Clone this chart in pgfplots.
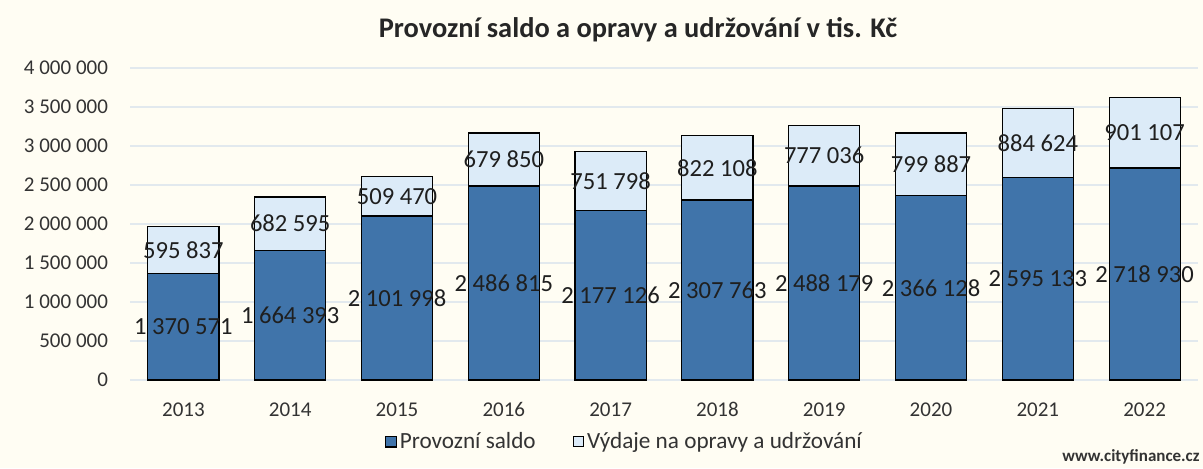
\documentclass[border=0pt]{standalone}
\usepackage{pgfplots}
\pgfplotsset{compat=1.18}
\usepackage{pgfplotstable}
\usepackage{fontspec}
\setmainfont{Carlito}
\definecolor{bg}{RGB}{255,253,243}
\definecolor{darkb}{RGB}{64,116,170}
\definecolor{lightb}{RGB}{220,235,248}
\definecolor{gridc}{RGB}{226,233,238}
\pgfplotstableread[col sep=comma]{
x,a,b,la,lb
0,1370571,595837,1 370 571,595 837
1,1664393,682595,1 664 393,682 595
2,2101998,509470,2 101 998,509 470
3,2486815,679850,2 486 815,679 850
4,2177126,751798,2 177 126,751 798
5,2307763,822108,2 307 763,822 108
6,2488179,777036,2 488 179,777 036
7,2366128,799887,2 366 128,799 887
8,2595133,884624,2 595 133,884 624
9,2718930,901107,2 718 930,901 107
}\data
\begin{document}
\begin{tikzpicture}
\fill[bg] (0,0) rectangle (601.5pt,234pt);
\begin{axis}[
  at={(65pt,44pt)}, anchor=south west,
  scale only axis, width=534pt, height=156pt,
  xmin=-0.5, xmax=9.5, ymin=0, ymax=4000000,
  ybar, bar width=0.665, bar shift=0pt,
  legend image code/.code={\draw[#1] (0pt,-2.6pt) rectangle (5.2pt,2.6pt);},
  axis line style={draw=none},
  tick style={draw=none},
  ymajorgrids, grid style={gridc, line width=0.6pt},
  scaled y ticks=false,
  ytick={0,500000,1000000,1500000,2000000,2500000,3000000,3500000,4000000},
  yticklabels={0,500 000,1 000 000,1 500 000,2 000 000,2 500 000,3 000 000,3 500 000,4 000 000},
  xtick={0,1,2,3,4,5,6,7,8,9},
  xticklabels={2013,2014,2015,2016,2017,2018,2019,2020,2021,2022},
  ticklabel style={font=\fontsize{10.5}{12}\selectfont, text=black!80},
  yticklabel style={xshift=-7.5pt},
  xticklabel style={yshift=-3.5pt},
  legend style={at={(0.4635,-0.198)}, anchor=center, draw=none, fill=none,
    legend columns=-1, font=\fontsize{11.6}{13}\selectfont, text=black!80,
    nodes={inner sep=1.5pt},
    /tikz/every odd column/.append style={column sep=0pt},
    /tikz/every even column/.append style={column sep=17pt}},
]
\addplot[fill=lightb, draw=black, line width=0.6pt, forget plot]
  table[x=x, y expr=\thisrow{a}+\thisrow{b}] {\data};
\addplot[fill=darkb, draw=black, line width=0.6pt]
  table[x=x, y=a] {\data};
\addlegendentry{Provozní saldo}
\addlegendimage{fill=lightb, draw=black, line width=0.5pt}
\addlegendentry{Výdaje na opravy a udržování}
\addplot[sharp plot, draw=none, forget plot, nodes near coords, point meta=explicit symbolic,
  nodes near coords align={center},
  every node near coord/.append style={font=\fontsize{12.3}{12}\selectfont, text=black!88, inner sep=0pt}]
  table[x=x, y expr=\thisrow{a}/2, meta=la] {\data};
\addplot[sharp plot, draw=none, forget plot, nodes near coords, point meta=explicit symbolic,
  nodes near coords align={center},
  every node near coord/.append style={font=\fontsize{12.3}{12}\selectfont, text=black!88, inner sep=0pt}]
  table[x=x, y expr=\thisrow{a}+\thisrow{b}/2, meta=lb] {\data};
\end{axis}
\node[font=\fontsize{14.2}{16}\selectfont\bfseries, text=black!85] at (319pt,219pt) {Provozní saldo a opravy a udržování v tis. Kč};
\node[font=\fontsize{8.5}{10}\selectfont\bfseries, text=black!80, anchor=east, inner sep=0pt] at (600pt,5.5pt) {www.cityfinance.cz};
\end{tikzpicture}
\end{document}
